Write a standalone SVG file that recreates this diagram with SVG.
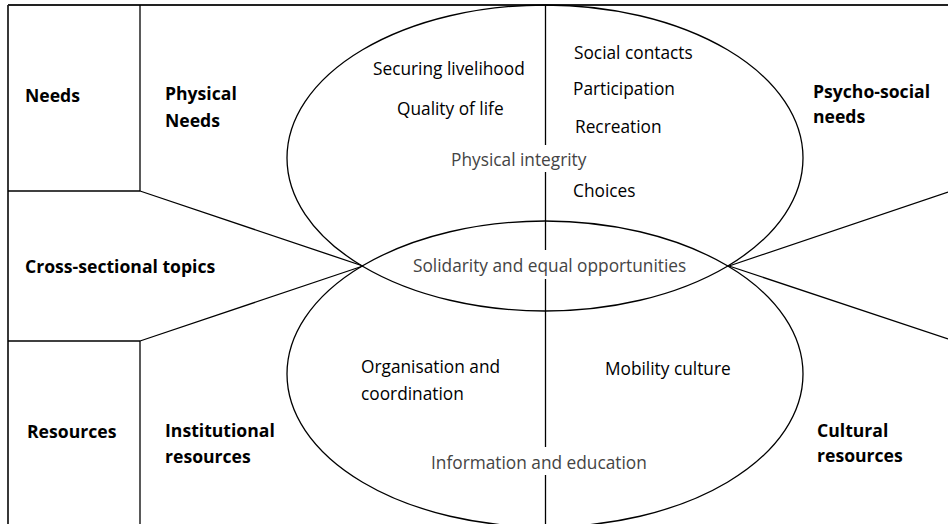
<svg xmlns="http://www.w3.org/2000/svg" width="948" height="524" viewBox="0 0 948 524">
<style>
.ln{stroke:#000;stroke-width:1.3;fill:none}
.fr{stroke:#222;stroke-width:1.8;fill:none}
.t{font-family:"Open Sans","Liberation Sans",sans-serif;font-size:17.3px;fill:#000}
.g{font-family:"Open Sans","Liberation Sans",sans-serif;font-size:17.3px;fill:#444}
.b{font-family:"Open Sans","Liberation Sans",sans-serif;font-size:17.6px;font-weight:bold;fill:#000}
</style>
<rect width="948" height="524" fill="#fff"/>
<g id="connectors">
<line class="fr" x1="8" y1="5" x2="948" y2="5"/>
<line class="fr" x1="8" y1="5" x2="8" y2="524"/>
<line class="ln" x1="140" y1="5" x2="140" y2="191"/>
<line class="ln" x1="140" y1="341" x2="140" y2="524"/>
<line class="ln" x1="8" y1="191" x2="140" y2="191"/>
<line class="ln" x1="8" y1="341" x2="140" y2="341"/>
<line class="ln" x1="140" y1="191" x2="363" y2="266"/>
<line class="ln" x1="140" y1="341" x2="363" y2="266"/>
<line class="ln" x1="729" y1="266" x2="948" y2="192"/>
<line class="ln" x1="729" y1="266" x2="948" y2="339"/>
<line class="ln" x1="545.5" y1="5" x2="545.5" y2="145"/>
<line class="ln" x1="545.5" y1="172" x2="545.5" y2="250"/>
<line class="ln" x1="545.5" y1="279" x2="545.5" y2="447"/>
<line class="ln" x1="545.5" y1="475" x2="545.5" y2="524"/>
</g>
<g id="needs-ellipse">
<ellipse class="ln" cx="545" cy="158" rx="258" ry="153"/>
<text class="t" x="373" y="75">Securing livelihood</text>
<text class="t" x="397" y="115">Quality of life</text>
<text class="t" x="574" y="59">Social contacts</text>
<text class="t" x="573" y="95">Participation</text>
<text class="t" x="575" y="133">Recreation</text>
<text class="g" x="451" y="166">Physical integrity</text>
<text class="t" x="573" y="197">Choices</text>
</g>
<g id="resources-ellipse">
<ellipse class="ln" cx="545" cy="374" rx="258" ry="153"/>
<text class="t" x="361" y="373">Organisation and</text>
<text class="t" x="361" y="400">coordination</text>
<text class="t" x="605" y="375">Mobility culture</text>
<text class="g" x="431" y="469">Information and education</text>
</g>
<g id="cross-section">
<text class="g" x="413" y="272">Solidarity and equal opportunities</text>
</g>
<g id="needs"><text class="b" x="25" y="102">Needs</text></g>
<g id="physical-needs"><text class="b" x="165" y="100">Physical</text><text class="b" x="165" y="127">Needs</text></g>
<g id="psycho-social-needs"><text class="b" x="813" y="98">Psycho-social</text><text class="b" x="813" y="123">needs</text></g>
<g id="cross-sectional-topics"><text class="b" x="25" y="273">Cross-sectional topics</text></g>
<g id="resources"><text class="b" x="27" y="438">Resources</text></g>
<g id="institutional-resources"><text class="b" x="165" y="437">Institutional</text><text class="b" x="165" y="463">resources</text></g>
<g id="cultural-resources"><text class="b" x="817" y="437">Cultural</text><text class="b" x="817" y="462">resources</text></g>
</svg>
